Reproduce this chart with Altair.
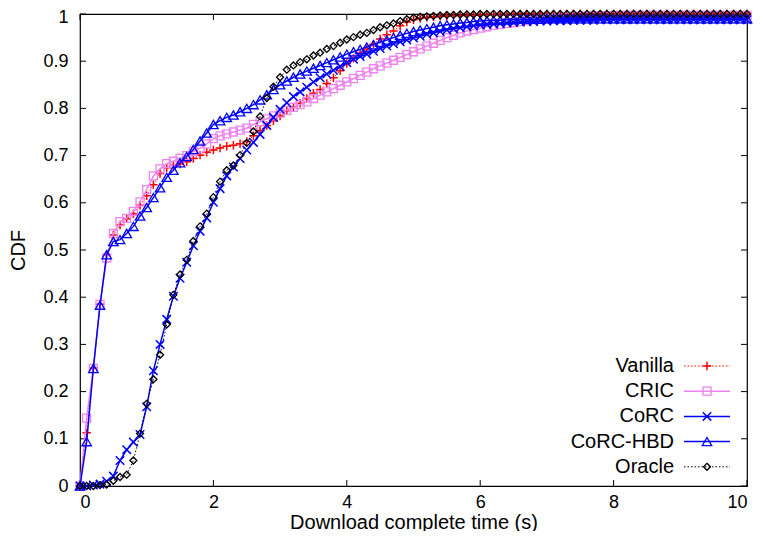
import altair as alt
import pandas as pd

x_vals = [0.0, 0.1, 0.2, 0.3, 0.4, 0.5, 0.6, 0.7, 0.8, 0.9,
          1.0, 1.1, 1.2, 1.3, 1.4, 1.5, 1.6, 1.7, 1.8, 1.9,
          2.0, 2.1, 2.2, 2.3, 2.4, 2.5, 2.6, 2.7, 2.8, 2.9,
          3.0, 3.1, 3.2, 3.3, 3.4, 3.5, 3.6, 3.7, 3.8, 3.9,
          4.0, 4.1, 4.2, 4.3, 4.4, 4.5, 4.6, 4.7, 4.8, 4.9,
          5.0, 5.1, 5.2, 5.3, 5.4, 5.5, 5.6, 5.7, 5.8, 5.9,
          6.0, 6.1, 6.2, 6.3, 6.4, 6.5, 6.6, 6.7, 6.8, 6.9,
          7.0, 7.1, 7.2, 7.3, 7.4, 7.5, 7.6, 7.7, 7.8, 7.9,
          8.0, 8.1, 8.2, 8.3, 8.4, 8.5, 8.6, 8.7, 8.8, 8.9,
          9.0, 9.1, 9.2, 9.3, 9.4, 9.5, 9.6, 9.7, 9.8, 9.9,
          10.0]

vanilla = [0.0, 0.113, 0.25, 0.385, 0.49, 0.532, 0.553, 0.566, 0.577, 0.595,
           0.615, 0.638, 0.662, 0.674, 0.68, 0.682, 0.687, 0.694, 0.701, 0.707,
           0.712, 0.716, 0.72, 0.722, 0.725, 0.73, 0.742, 0.753, 0.764, 0.774,
           0.784, 0.795, 0.803, 0.811, 0.821, 0.832, 0.84, 0.853, 0.865, 0.88,
           0.895, 0.906, 0.917, 0.926, 0.936, 0.947, 0.956, 0.964, 0.975, 0.983,
           0.988, 0.991, 0.993, 0.994, 0.995, 0.996, 0.997, 0.997, 0.998, 0.998,
           0.999, 0.999, 0.999, 0.999, 0.999, 1.0, 1.0, 1.0, 1.0, 1.0,
           1.0, 1.0, 1.0, 1.0, 1.0, 1.0, 1.0, 1.0, 1.0, 1.0,
           1.0, 1.0, 1.0, 1.0, 1.0, 1.0, 1.0, 1.0, 1.0, 1.0,
           1.0, 1.0, 1.0, 1.0, 1.0, 1.0, 1.0, 1.0, 1.0, 1.0,
           1.0]

cric = [0.0, 0.144, 0.249, 0.385, 0.483, 0.535, 0.56, 0.567, 0.582, 0.602,
        0.628, 0.657, 0.672, 0.683, 0.688, 0.694, 0.7, 0.709, 0.716, 0.725,
        0.736, 0.742, 0.746, 0.75, 0.754, 0.758, 0.766, 0.772, 0.778, 0.784,
        0.79, 0.796, 0.802, 0.808, 0.814, 0.821, 0.828, 0.835, 0.842, 0.849,
        0.856, 0.863, 0.87, 0.877, 0.884, 0.89, 0.896, 0.902, 0.908, 0.914,
        0.92, 0.926, 0.932, 0.938, 0.944, 0.95, 0.955, 0.96, 0.964, 0.967,
        0.97, 0.973, 0.976, 0.978, 0.98, 0.982, 0.984, 0.986, 0.988, 0.989,
        0.99, 0.991, 0.992, 0.993, 0.994, 0.995, 0.995, 0.996, 0.996, 0.996,
        0.997, 0.997, 0.997, 0.997, 0.997, 0.997, 0.997, 0.997, 0.997, 0.997,
        0.997, 0.997, 0.997, 0.997, 0.997, 0.997, 0.997, 0.997, 0.997, 0.997,
        0.997]

corc = [0.0, 0.0, 0.002, 0.004, 0.01, 0.021, 0.054, 0.077, 0.093, 0.109,
        0.168, 0.244, 0.3, 0.353, 0.402, 0.44, 0.474, 0.509, 0.54, 0.568,
        0.601, 0.63, 0.657, 0.676, 0.694, 0.712, 0.728, 0.745, 0.764, 0.781,
        0.798, 0.812, 0.825, 0.835, 0.845, 0.856, 0.865, 0.873, 0.881, 0.889,
        0.897, 0.904, 0.91, 0.915, 0.921, 0.927, 0.932, 0.937, 0.941, 0.945,
        0.949, 0.953, 0.957, 0.96, 0.963, 0.966, 0.969, 0.971, 0.973, 0.975,
        0.977, 0.978, 0.979, 0.98, 0.981, 0.982, 0.983, 0.984, 0.984, 0.985,
        0.985, 0.986, 0.986, 0.986, 0.987, 0.987, 0.987, 0.987, 0.988, 0.988,
        0.988, 0.988, 0.988, 0.988, 0.988, 0.988, 0.988, 0.988, 0.988, 0.988,
        0.988, 0.988, 0.988, 0.988, 0.988, 0.988, 0.988, 0.988, 0.988, 0.988,
        0.988]

corc_hbd = [0.0, 0.094, 0.249, 0.383, 0.49, 0.518, 0.522, 0.535, 0.55, 0.572,
            0.59, 0.611, 0.632, 0.654, 0.669, 0.685, 0.698, 0.713, 0.731, 0.748,
            0.766, 0.774, 0.781, 0.786, 0.793, 0.8, 0.808, 0.818, 0.829, 0.84,
            0.85, 0.858, 0.866, 0.873, 0.879, 0.885, 0.891, 0.897, 0.903, 0.909,
            0.915, 0.92, 0.925, 0.93, 0.935, 0.94, 0.945, 0.95, 0.955, 0.959,
            0.963, 0.966, 0.969, 0.972, 0.975, 0.977, 0.979, 0.981, 0.982, 0.984,
            0.985, 0.986, 0.987, 0.987, 0.988, 0.988, 0.989, 0.989, 0.989, 0.989,
            0.99, 0.99, 0.99, 0.99, 0.99, 0.99, 0.99, 0.99, 0.99, 0.99,
            0.99, 0.99, 0.99, 0.99, 0.99, 0.99, 0.99, 0.99, 0.99, 0.99,
            0.99, 0.99, 0.99, 0.99, 0.99, 0.99, 0.99, 0.99, 0.99, 0.99,
            0.99]

oracle = [0.0, 0.0, 0.0, 0.002, 0.003, 0.011, 0.019, 0.024, 0.054, 0.111,
          0.174, 0.226, 0.278, 0.342, 0.405, 0.448, 0.479, 0.519, 0.55, 0.577,
          0.612, 0.645, 0.669, 0.679, 0.701, 0.727, 0.751, 0.783, 0.822, 0.846,
          0.866, 0.882, 0.891, 0.898, 0.904, 0.912, 0.918, 0.926, 0.932, 0.939,
          0.946, 0.951, 0.956, 0.96, 0.966, 0.972, 0.976, 0.98, 0.985, 0.989,
          0.992, 0.994, 0.995, 0.996, 0.997, 0.998, 0.998, 0.999, 0.999, 0.999,
          1.0, 1.0, 1.0, 1.0, 1.0, 1.0, 1.0, 1.0, 1.0, 1.0,
          1.0, 1.0, 1.0, 1.0, 1.0, 1.0, 1.0, 1.0, 1.0, 1.0,
          1.0, 1.0, 1.0, 1.0, 1.0, 1.0, 1.0, 1.0, 1.0, 1.0,
          1.0, 1.0, 1.0, 1.0, 1.0, 1.0, 1.0, 1.0, 1.0, 1.0,
          1.0]

series_names = ["Vanilla", "CRIC", "CoRC", "CoRC-HBD", "Oracle"]
series_values = [vanilla, cric, corc, corc_hbd, oracle]

x_ticks = [0, 2, 4, 6, 8, 10]
y_ticks = [0, 0.1, 0.2, 0.3, 0.4, 0.5, 0.6, 0.7, 0.8, 0.9, 1.0]

W, H = 667, 472
FONT = "Liberation Sans"
TICK = 6

styles = {
    "Vanilla": dict(color="#ff0000", dash=[1.5, 2], lw=1.0,
                    shape="M-1,0H1M0,-1V1", size=72, sw=1.5),
    "CRIC": dict(color="#ee82ee", dash=None, lw=1.5,
                 shape="square", size=64, sw=1.3),
    "CoRC": dict(color="#0000ff", dash=None, lw=1.5,
                 shape="M-1,-1L1,1M-1,1L1,-1", size=72, sw=1.5),
    "CoRC-HBD": dict(color="#0000ff", dash=None, lw=1.5,
                     shape="triangle-up", size=90, sw=1.3),
    "Oracle": dict(color="#000000", dash=[1.5, 2], lw=1.0,
                   shape="M0,-1L1,0L0,1L-1,0Z", size=49, sw=1.3),
}

xs = alt.Scale(domain=[0, 10], nice=False, zero=False)
ys = alt.Scale(domain=[0, 1], nice=False, zero=False)

x_axis = alt.Axis(values=x_ticks, format="d", grid=False, domain=False,
                  ticks=True, tickSize=0, labelPadding=7, labelFont=FONT,
                  labelFontSize=18, labelColor="black",
                  title="Download complete time (s)", titleFont=FONT,
                  titleFontSize=20, titleFontWeight="normal",
                  titleColor="black", titleBaseline="alphabetic",
                  titleY=42)
y_axis = alt.Axis(values=y_ticks, grid=False, domain=False, ticks=True,
                  tickSize=0, labelPadding=12, labelFont=FONT,
                  labelFontSize=18, labelColor="black",
                  labelOffset={"condition": {"test": "datum.value == 1", "value": 3},
                               "value": 0},
                  labelExpr="datum.value == 0 ? '0' : (datum.value == 1 ? '1' : format(datum.value, '.1f'))",
                  title="CDF", titleFont=FONT, titleFontSize=20,
                  titleFontWeight="normal", titleColor="black",
                  titlePadding=14)

X = lambda f: alt.X(f, scale=xs, axis=x_axis)
Y = lambda f: alt.Y(f, scale=ys, axis=y_axis)

xt = pd.DataFrame({"t": x_ticks})
yt = pd.DataFrame({"t": y_ticks})

layers = []
layers.append(alt.Chart(xt).mark_rule(color="black", strokeWidth=1).encode(
    x=X("t:Q"), y=alt.value(H), y2=alt.value(H - TICK)))
layers.append(alt.Chart(xt).mark_rule(color="black", strokeWidth=1).encode(
    x=X("t:Q"), y=alt.value(0), y2=alt.value(TICK)))
layers.append(alt.Chart(yt).mark_rule(color="black", strokeWidth=1).encode(
    y=Y("t:Q"), x=alt.value(0), x2=alt.value(TICK)))
layers.append(alt.Chart(yt).mark_rule(color="black", strokeWidth=1).encode(
    y=Y("t:Q"), x=alt.value(W - TICK), x2=alt.value(W)))

for name, vals in zip(series_names, series_values):
    st = styles[name]
    df = pd.DataFrame({"x": x_vals, "y": vals})
    line_kw = dict(color=st["color"], strokeWidth=st["lw"])
    if st["dash"]:
        line_kw["strokeDash"] = st["dash"]
    base = alt.Chart(df)
    layers.append(base.mark_line(**line_kw).encode(x=X("x:Q"), y=Y("y:Q")))
    layers.append(base.mark_point(shape=st["shape"], size=st["size"],
                                  filled=False, color=st["color"],
                                  strokeWidth=st["sw"], opacity=1).encode(
        x=X("x:Q"), y=Y("y:Q")))

# legend (bottom right, label left of sample)
LX_TEXT, LX0, LX1, LY0, LDY = 594, 604, 650, 352, 25.2
for i, name in enumerate(series_names):
    st = styles[name]
    ly = LY0 + LDY * i
    ld = pd.DataFrame({"name": [name]})
    layers.append(alt.Chart(ld).mark_text(align="right", baseline="middle",
                                          font=FONT, fontSize=20,
                                          color="black").encode(
        text="name:N", x=alt.value(LX_TEXT), y=alt.value(ly)))
    rule_kw = dict(color=st["color"], strokeWidth=st["lw"])
    if st["dash"]:
        rule_kw["strokeDash"] = st["dash"]
    layers.append(alt.Chart(ld).mark_rule(**rule_kw).encode(
        x=alt.value(LX0), x2=alt.value(LX1), y=alt.value(ly)))
    layers.append(alt.Chart(ld).mark_point(shape=st["shape"], size=st["size"],
                                           filled=False, color=st["color"],
                                           strokeWidth=st["sw"],
                                           opacity=1).encode(
        x=alt.value((LX0 + LX1) / 2), y=alt.value(ly)))

chart = alt.layer(*layers).properties(
    width=W, height=H,
    autosize=alt.AutoSizeParams(type="none"),
    padding={"left": 72, "top": 6, "right": 9, "bottom": 45},
).configure(background="white").configure_view(stroke="black", strokeWidth=1.2)

chart.save("out.html", embed_options={"renderer": "svg", "actions": False})
